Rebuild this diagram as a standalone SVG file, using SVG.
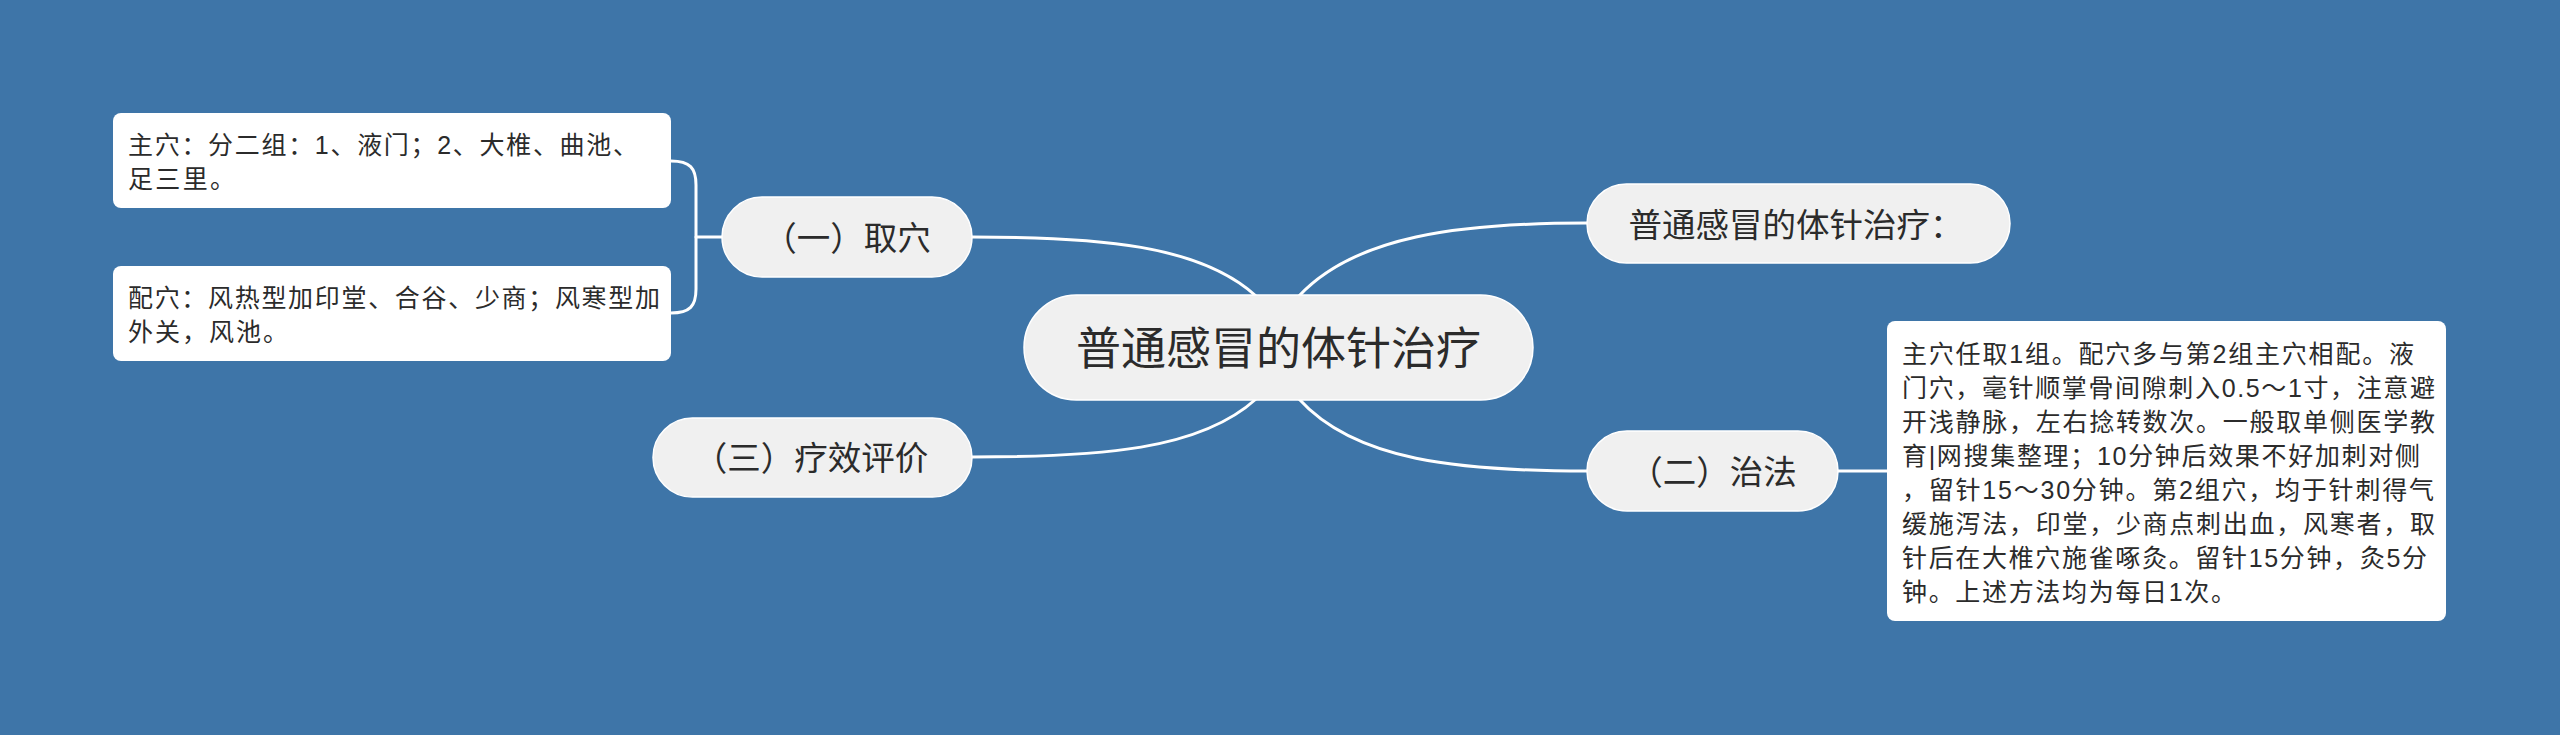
<svg xmlns="http://www.w3.org/2000/svg" width="2560" height="735" viewBox="0 0 2560 735">
<style>
.bg{fill:#3E75A8}
.pill{fill:#F0F0F0;stroke:#FFFFFF;stroke-width:1.5}
.box{fill:#FFFFFF}
.lnk{fill:none;stroke:#FFFFFF;stroke-width:3;stroke-linecap:round}
.t{font-family:"Liberation Sans","Noto Sans CJK SC",sans-serif;fill:#2B2B2B}
.big{font-size:45px}
.mid{font-size:33.5px}
.sm{font-size:25px}
</style>
<rect class="bg" x="0" y="0" width="2560" height="735"/>
<g id="connectors">
<path class="lnk" d="M 972 237 C 1100 237, 1200 245, 1256 296"/>
<path class="lnk" d="M 1587 223 C 1459 223, 1355 236, 1299 296"/>
<path class="lnk" d="M 1587 471 C 1459 471, 1355 461, 1299 399"/>
<path class="lnk" d="M 972 457 C 1100 457, 1200 450, 1256 399"/>
<path class="lnk" d="M 722 237 L 696 237"/>
<path class="lnk" d="M 671 161 C 690 161, 696 168, 696 185 L 696 289 C 696 306, 690 313, 671 313"/>
<path class="lnk" d="M 1838 471 L 1887 471"/>
</g>
<g id="center">
<rect class="pill" x="1024" y="295" width="509" height="105" rx="52.5"/>
<text class="t big" x="1278.5" y="364.5" text-anchor="middle">普通感冒的体针治疗</text>
</g>
<g id="n1">
<rect class="pill" x="722" y="197" width="250" height="80" rx="40"/>
<text class="t mid" x="847" y="250" text-anchor="middle">（一）取穴</text>
</g>
<g id="n1a">
<rect class="box" x="113" y="113" width="558" height="95" rx="8"/>
<text class="t sm" x="128" y="153.5" textLength="510">主穴：分二组：1、液门；2、大椎、曲池、</text>
<text class="t sm" x="128" y="187.5" textLength="107">足三里。</text>
</g>
<g id="n1b">
<rect class="box" x="113" y="266" width="558" height="95" rx="8"/>
<text class="t sm" x="128" y="306.5" textLength="532">配穴：风热型加印堂、合谷、少商；风寒型加</text>
<text class="t sm" x="128" y="340.5" textLength="160">外关，风池。</text>
</g>
<g id="n0">
<rect class="pill" x="1587" y="184" width="423" height="79" rx="39.5"/>
<text class="t mid" x="1796" y="237" text-anchor="middle">普通感冒的体针治疗：</text>
</g>
<g id="n2">
<rect class="pill" x="1587" y="431" width="251" height="80" rx="40"/>
<text class="t mid" x="1713" y="484" text-anchor="middle">（二）治法</text>
</g>
<g id="n2a">
<rect class="box" x="1887" y="321" width="559" height="300" rx="8"/>
<text class="t sm" x="1902" y="363" textLength="512">主穴任取1组。配穴多与第2组主穴相配。液</text>
<text class="t sm" x="1902" y="397" textLength="533">门穴，毫针顺掌骨间隙刺入0.5～1寸，注意避</text>
<text class="t sm" x="1902" y="431" textLength="533">开浅静脉，左右捻转数次。一般取单侧医学教</text>
<text class="t sm" x="1902" y="465" textLength="518">育|网搜集整理；10分钟后效果不好加刺对侧</text>
<text class="t sm" x="1902" y="499" textLength="532">，留针15～30分钟。第2组穴，均于针刺得气</text>
<text class="t sm" x="1902" y="533" textLength="533">缓施泻法，印堂，少商点刺出血，风寒者，取</text>
<text class="t sm" x="1902" y="567" textLength="525">针后在大椎穴施雀啄灸。留针15分钟，灸5分</text>
<text class="t sm" x="1902" y="601" textLength="334">钟。上述方法均为每日1次。</text>
</g>
<g id="n3">
<rect class="pill" x="653" y="418" width="319" height="79" rx="39.5"/>
<text class="t mid" x="811" y="470" text-anchor="middle">（三）疗效评价</text>
</g>
</svg>
